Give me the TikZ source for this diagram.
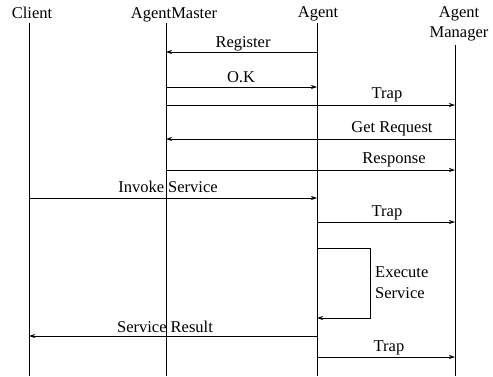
\documentclass[tikz,border=0pt]{standalone}
\usepackage{fontspec}
\setmainfont{Liberation Serif}
\usetikzlibrary{arrows.meta}
\begin{document}
\begin{tikzpicture}[x=1pt,y=-1pt,
  every node/.style={font=\fontsize{16.5}{19}\selectfont, inner sep=0pt},
  life/.style={line width=0.7pt},
  msg/.style={line width=0.7pt,-{Stealth[length=6pt,width=4pt]}},
  lbl/.style={anchor=base}]
\useasboundingbox (0,0) rectangle (493,376);
% headers
\node[lbl] (hc) at (32,18) {Client};
\node[lbl] (ham) at (174,18) {AgentMaster};
\node[lbl] (ha) at (318,17) {Agent};
\node[lbl, align=center] (hagm) at (459,17) {Agent};
\node[lbl] (hagm2) at (459,37) {Manager};
% lifeline ends
\coordinate (c0) at (29,23);   \coordinate (c1) at (29,376);
\coordinate (m0) at (166,23);  \coordinate (m1) at (166,376);
\coordinate (a0) at (317,23);  \coordinate (a1) at (317,376);
\coordinate (g0) at (455,45);  \coordinate (g1) at (455,376);
\draw[life] (c0) -- (c1);
\draw[life] (m0) -- (m1);
\draw[life] (a0) -- (a1);
\draw[life] (g0) -- (g1);
% message end points
\coordinate (a52) at (317,52);  \coordinate (m52) at (166,52);
\coordinate (m87) at (166,87);  \coordinate (a87) at (317,87);
\coordinate (m105) at (166,105); \coordinate (g105) at (455,105);
\coordinate (g139) at (455,139); \coordinate (m139) at (166,139);
\coordinate (m170) at (166,170); \coordinate (g170) at (455,170);
\coordinate (c198) at (29,198);  \coordinate (a198) at (317,198);
\coordinate (a222) at (317,222); \coordinate (g222) at (455,222);
\coordinate (a248) at (317,248); \coordinate (r248) at (370,248);
\coordinate (r318) at (370,318); \coordinate (a318) at (317,318);
\coordinate (a336) at (317,336); \coordinate (c336) at (29,336);
\coordinate (a357) at (317,357); \coordinate (g357) at (455,357);
% messages
\draw[msg] (a52) -- (m52);
\node[lbl] (l1) at (243,47) {Register};
\draw[msg] (m87) -- (a87);
\node[lbl] (l2) at (241,82) {O.K};
\draw[msg] (m105) -- (g105);
\node[lbl] (l3) at (387,98) {Trap};
\draw[msg] (g139) -- (m139);
\node[lbl] (l4) at (392,132) {Get Request};
\draw[msg] (m170) -- (g170);
\node[lbl] (l5) at (394,163) {Response};
\draw[msg] (c198) -- (a198);
\node[lbl] (l6) at (168,192) {Invoke Service};
\draw[msg] (a222) -- (g222);
\node[lbl] (l7) at (387,216) {Trap};
\draw[msg] (a248) -- (r248) -- (r318) -- (a318);
\node[lbl, anchor=base west] (l8) at (375,277) {Execute};
\node[lbl, anchor=base west] (l9) at (375,298) {Service};
\draw[msg] (a336) -- (c336);
\node[lbl] (l10) at (165,332) {Service Result};
\draw[msg] (a357) -- (g357);
\node[lbl] (l11) at (389,351) {Trap};
\end{tikzpicture}
\end{document}
